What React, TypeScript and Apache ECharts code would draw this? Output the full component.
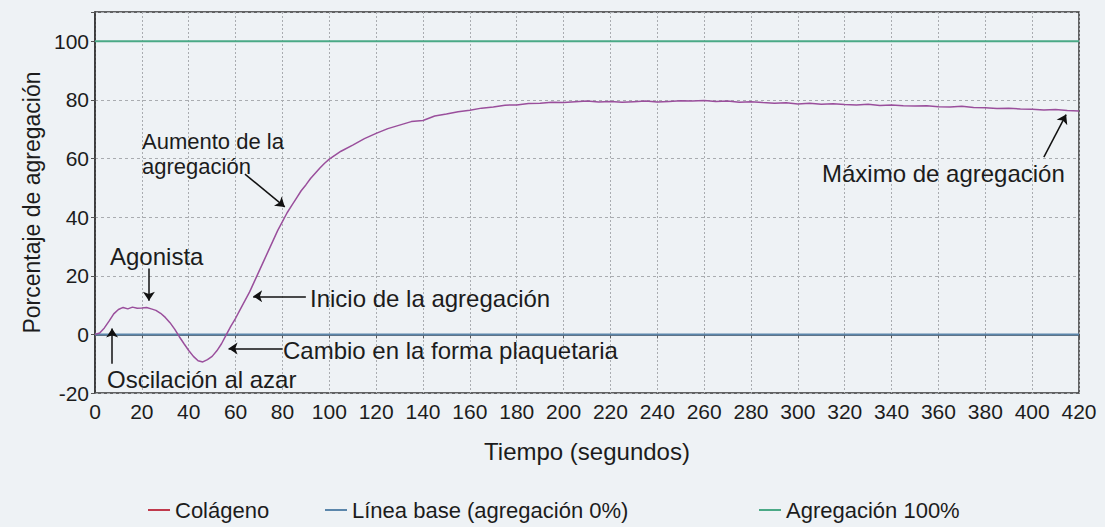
import React, { useEffect, useRef } from "react";
import * as echarts from "echarts";

const times: number[] = [
  0, 2, 4, 6, 8, 10, 12, 14, 16, 18, 20, 22, 24, 26, 28, 30, 32, 34, 36, 38, 40,
  42, 44, 46, 48, 50, 52, 54, 56, 58, 60, 62, 64, 66, 68, 70, 72, 74, 76, 78, 80,
  82, 84, 86, 88, 90, 92, 94, 96, 98, 100,
  105, 110, 115, 120, 125, 130, 135, 140, 145, 150, 155, 160, 165, 170, 175, 180,
  185, 190, 195, 200, 205, 210, 215, 220, 225, 230, 235, 240, 245, 250, 255, 260,
  265, 270, 275, 280, 285, 290, 295, 300, 305, 310, 315, 320, 325, 330, 335, 340,
  345, 350, 355, 360, 365, 370, 375, 380, 385, 390, 395, 400, 405, 410, 415, 420,
];
const colageno: number[] = [
  0, 0.5, 2.2, 4.5, 7, 8.5, 9.2, 8.7, 9.3, 8.9, 9.0, 9.2, 8.7, 8.2, 7.2, 5.8, 4.0, 1.8, -0.8, -3.2, -5.5,
  -7.5, -9.0, -9.4, -8.6, -7.5, -5.6, -3.2, -0.2, 2.8, 5.5, 8.5, 11.5, 14.5, 18.0, 21.5, 25.0, 28.5, 32.0, 35.5, 38.5,
  41.5, 44.0, 46.5, 49.0, 51.0, 53.2, 55.0, 56.8, 58.4, 59.8,
  62.5, 64.6, 66.8, 68.6, 70.2, 71.4, 72.6, 73.0, 74.5, 75.2, 76.0, 76.5, 77.2, 77.6, 78.2, 78.3,
  78.8, 78.9, 79.2, 79.1, 79.4, 79.6, 79.3, 79.5, 79.2, 79.4, 79.6, 79.3, 79.5, 79.7, 79.6, 79.8,
  79.5, 79.6, 79.2, 79.4, 79.1, 78.9, 79.0, 78.6, 78.9, 78.5, 78.7, 78.4, 78.3, 78.5, 78.1, 78.3,
  78.0, 77.9, 78.0, 77.7, 77.6, 77.8, 77.4, 77.3, 77.1, 77.2, 76.9, 76.8, 76.6, 76.7, 76.4, 76.2,
];
const baseLine: number[][] = [[0, 0], [420, 0]];
const fullLine: number[][] = [[0, 100], [420, 100]];
const seriesNames = ["Colágeno", "Línea base (agregación 0%)", "Agregación 100%"];

const arrows: number[][][] = [
  [[23, 22.5], [23, 11.5]],
  [[7.3, -10], [7.3, 2]],
  [[80, -4.8], [57, -4.8]],
  [[90, 13], [67.5, 13]],
  [[64, 54.7], [81, 43.5]],
  [[405, 60.5], [414.5, 75]],
];

const notes: { text: string; x: number; y: number; size: number }[] = [
  { text: "Agonista", x: 110, y: 256, size: 24 },
  { text: "Oscilación al azar", x: 107, y: 379, size: 24 },
  { text: "Cambio en la forma plaquetaria", x: 283, y: 350, size: 24 },
  { text: "Inicio de la agregación", x: 310, y: 298, size: 24 },
  { text: "Aumento de la\nagregación", x: 142, y: 154, size: 22 },
  { text: "Máximo de agregación", x: 822, y: 173, size: 24 },
];

const FONT = "'Liberation Sans', Arial, Helvetica, sans-serif";
const TXT = "#1c1c1c";

export default function App() {
  const ref = useRef<HTMLDivElement>(null);
  useEffect(() => {
    if (!ref.current) return;
    const chart = echarts.init(ref.current, undefined, { renderer: "svg" });
    const legendBase = {
      orient: "horizontal",
      top: 494,
      itemWidth: 22,
      itemHeight: 2,
      itemGap: 6,
      icon: "rect",
      textStyle: { fontSize: 22, color: TXT, fontFamily: FONT },
    };
    chart.setOption({
      animation: false,
      backgroundColor: "#eef2f5",
      textStyle: { fontFamily: FONT },
      grid: {
        left: 95,
        top: 12,
        width: 984,
        height: 381,
        show: true,
        borderColor: "#333",
        borderWidth: 1.5,
        backgroundColor: "transparent",
      },
      legend: [
        { ...legendBase, left: 143, data: [{ name: seriesNames[0], itemStyle: { color: "#c0394b" } }] },
        { ...legendBase, left: 320, data: [{ name: seriesNames[1], itemStyle: { color: "#5b86ab" } }] },
        { ...legendBase, left: 754, data: [{ name: seriesNames[2], itemStyle: { color: "#4aa986" } }] },
      ],
      xAxis: {
        type: "value",
        min: 0,
        max: 420,
        interval: 20,
        name: "Tiempo (segundos)",
        nameLocation: "middle",
        nameGap: 46,
        nameTextStyle: { fontSize: 24, color: TXT, fontFamily: FONT },
        axisLine: { show: true, lineStyle: { color: "#333", width: 1.5 } },
        axisTick: { show: true, length: 4, lineStyle: { color: "#555" } },
        axisLabel: { fontSize: 21, color: TXT, margin: 8, fontFamily: FONT },
        splitLine: { show: true, lineStyle: { color: "#a9acb0", type: [2, 2], width: 1 } },
      },
      yAxis: {
        type: "value",
        min: -20,
        max: 110,
        interval: 20,
        name: "Porcentaje de agregación",
        nameLocation: "middle",
        nameGap: 50,
        nameTextStyle: { fontSize: 23, color: TXT, fontFamily: FONT },
        axisLine: { show: true, lineStyle: { color: "#333", width: 1.5 } },
        axisTick: { show: true, length: 4, lineStyle: { color: "#555" } },
        axisLabel: {
          fontSize: 21,
          color: TXT,
          margin: 6,
          fontFamily: FONT,
          formatter: (v: number) => (v > 100 ? "" : String(v)),
        },
        splitLine: { show: true, lineStyle: { color: "#a9acb0", type: [3, 3], width: 1 } },
      },
      series: [
        {
          name: seriesNames[1],
          type: "line",
          data: baseLine,
          symbol: "none",
          lineStyle: { color: "#5b86ab", width: 2 },
          itemStyle: { color: "#5b86ab" },
          z: 3,
        },
        {
          name: seriesNames[2],
          type: "line",
          data: fullLine,
          symbol: "none",
          lineStyle: { color: "#4aa986", width: 2 },
          itemStyle: { color: "#4aa986" },
          z: 3,
        },
        {
          name: seriesNames[0],
          type: "line",
          data: times.map((t, i) => [t, colageno[i]]),
          symbol: "none",
          lineStyle: { color: "#9a4f9c", width: 1.5 },
          itemStyle: { color: "#c0394b" },
          z: 4,
        },
        {
          type: "lines",
          coordinateSystem: "cartesian2d",
          symbol: ["none", "arrow"],
          symbolSize: [0, 9],
          lineStyle: { color: "#111", width: 1.5, opacity: 1 },
          data: arrows.map((c) => ({ coords: c })),
          z: 5,
          silent: true,
        },
      ],
      graphic: notes.map((n) => ({
        type: "text",
        x: n.x,
        y: n.y,
        z: 10,
        style: {
          text: n.text,
          fontSize: n.size,
          lineHeight: 25,
          fontFamily: FONT,
          fill: TXT,
          textAlign: "left",
          textVerticalAlign: "middle",
        },
      })),
    });
    return () => chart.dispose();
  }, []);
  return <div ref={ref} style={{ width: 1105, height: 527, position: "absolute", left: 0, top: 0 }} />;
}
